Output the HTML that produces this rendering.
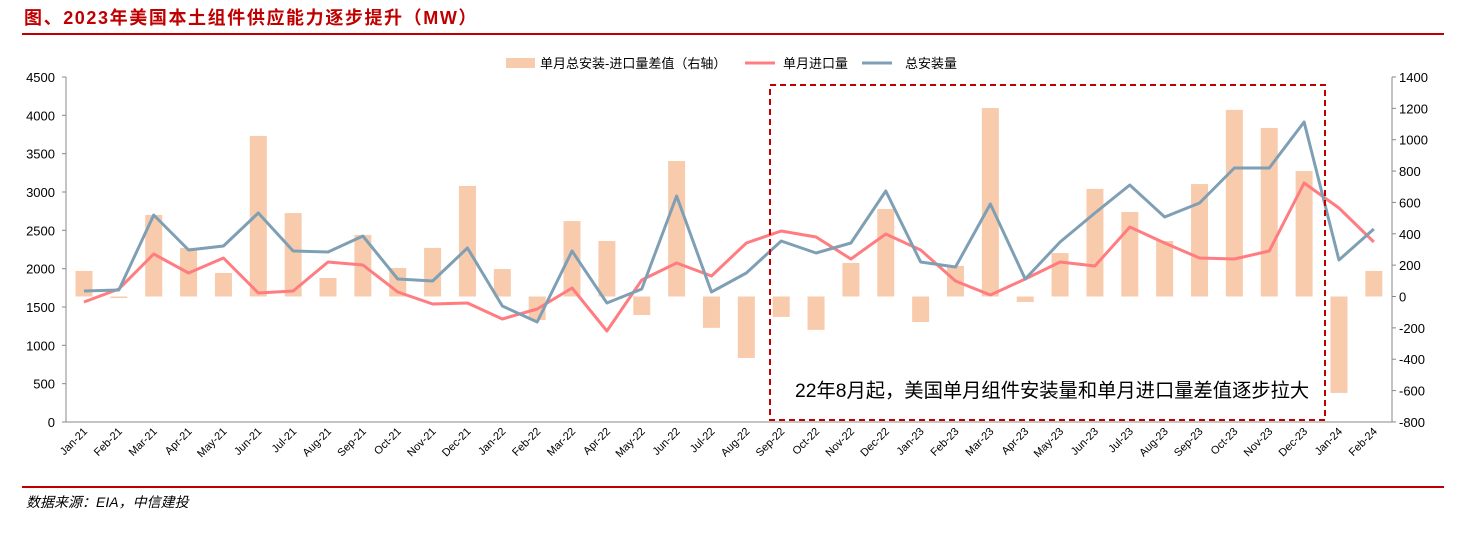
<!DOCTYPE html>
<html><head><meta charset="utf-8"><style>
body{margin:0;background:#fff;width:1464px;height:528px;overflow:hidden;font-family:"Liberation Sans","Noto Sans CJK SC",sans-serif;}
</style></head><body>
<svg id="s" width="1464" height="528" xmlns="http://www.w3.org/2000/svg" font-family="Liberation Sans, Noto Sans CJK SC, sans-serif">
<text x="24" y="24" font-size="18" font-weight="bold" fill="#c00000" letter-spacing="1.6">图、2023年美国本土组件供应能力逐步提升（MW）</text>
<line x1="22" y1="34" x2="1444" y2="34" stroke="#c00000" stroke-width="2"/>
<line x1="22" y1="487" x2="1444" y2="487" stroke="#c00000" stroke-width="2"/>
<text x="26" y="507" font-size="14" font-style="italic" fill="#000">数据来源：EIA，中信建投</text>
<rect x="506" y="58" width="29" height="10" fill="#f8cbad"/>
<text x="540" y="68" font-size="13">单月总安装-进口量差值（右轴）</text>
<line x1="745" y1="63" x2="775" y2="63" stroke="#ff7c80" stroke-width="3"/>
<text x="783" y="68" font-size="13">单月进口量</text>
<line x1="862" y1="63" x2="892" y2="63" stroke="#7f9fb5" stroke-width="3"/>
<text x="905" y="68" font-size="13">总安装量</text>
<g id="g"></g>
<rect x="770" y="85" width="555" height="335" fill="none" stroke="#c00000" stroke-width="2" stroke-dasharray="6,4"/>
<text x="795" y="397" font-size="19.3">22年8月起，美国单月组件安装量和单月进口量差值逐步拉大</text>
</svg>
<script>
var g=document.getElementById('g'),h='';
var bars=[163,-10,520,310,150,1024,532,118,392,182,310,705,175,-150,481,354,-118,864,-200,-392,-130,-213,214,558,-163,195,1202,-35,277,686,539,354,717,1190,1075,800,-615,163];
var red=[302,289,254,273,258,293,291,262,265,292,304,303,319,309,288,331,280,263,276,243,231,237,259,234,250,281,295,279,262,266,227,243,258,259,251,183,208,242];
var blue=[291,290,215,250,246,213,251,252,236,279,281,248,306,322,251,303,289,196,292,273,241,253,243,191,262,267,204,279,242,213,185,217,203,168,168,122,260,229];
var lab=[];['21','22','23','24'].forEach(function(y){['Jan','Feb','Mar','Apr','May','Jun','Jul','Aug','Sep','Oct','Nov','Dec'].forEach(function(m){lab.push(m+'-'+y)})});
function X(i){return 84+i*34.86}
var z=296.5,k=0.1568;
h+='<line x1="66" y1="77" x2="66" y2="422" stroke="#888"/><line x1="1392" y1="77" x2="1392" y2="422" stroke="#888"/><line x1="66" y1="422" x2="1392" y2="422" stroke="#888"/>';
for(var v=0;v<=4500;v+=500){var y=422-v*0.07667;h+='<text x="55" y="'+(y+5)+'" font-size="13" text-anchor="end">'+v+'</text><line x1="62" y1="'+y+'" x2="66" y2="'+y+'" stroke="#888"/>';}
for(var v=-800;v<=1400;v+=200){var y=z-v*k;h+='<text x="1399" y="'+(y+5)+'" font-size="13">'+v+'</text><line x1="1392" y1="'+y+'" x2="1396" y2="'+y+'" stroke="#888"/>';}
for(var i=0;i<38;i++){var x=X(i),b=bars[i],t=b>=0?z-b*k:z,hh=Math.abs(b)*k;
h+='<rect x="'+(x-8.5)+'" y="'+t+'" width="17" height="'+hh+'" fill="#f8cbad"/>';
h+='<text font-size="11" text-anchor="end" transform="translate('+(x+4)+',432) rotate(-45)">'+lab[i]+'</text>';}
function pl(a,c){return '<polyline fill="none" stroke="'+c+'" stroke-width="3" stroke-linejoin="round" points="'+a.map(function(y,i){return X(i)+','+y}).join(' ')+'"/>'}
h+=pl(red,'#ff7c80')+pl(blue,'#7f9fb5');
g.innerHTML=h;
</script>
</body></html>
